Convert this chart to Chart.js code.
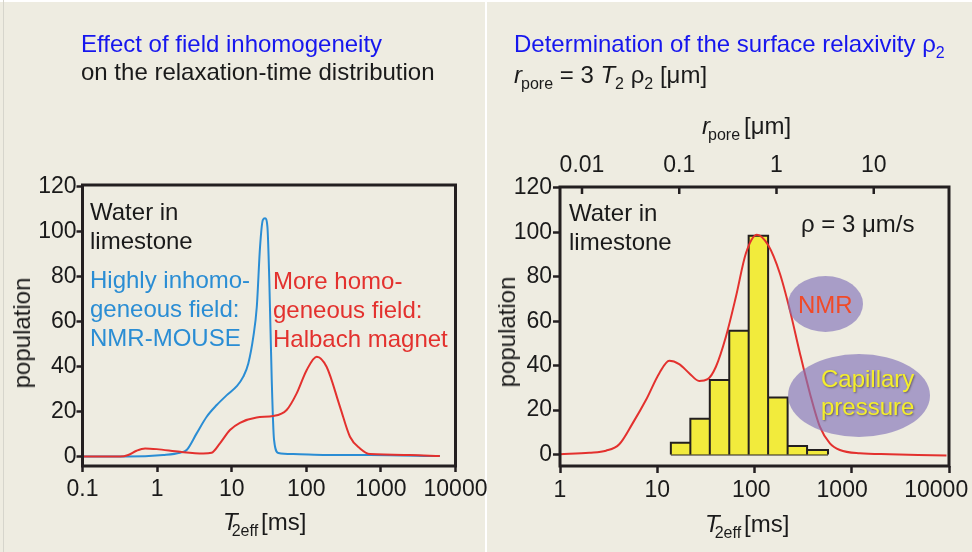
<!DOCTYPE html>
<html>
<head>
<meta charset="utf-8">
<title>Relaxation-time distributions</title>
<script src="https://cdn.jsdelivr.net/npm/chart.js@4.4.0/dist/chart.umd.min.js"></script>
<style>
  html, body { margin: 0; padding: 0; }
  body {
    width: 972px; height: 552px; position: relative; overflow: hidden;
    background: #eeece1; color: #1a1a1a;
    font-family: 'Liberation Sans', Arial, sans-serif;
  }
  canvas { position: absolute; left: 0; top: 0; }
  .txt { position: absolute; white-space: nowrap; font-size: 24px; line-height: 28px; }
  .tall { line-height: 29px; }
  .sub { font-size: 16px; position: relative; top: 6px; }
  .ytitle {
    position: absolute; white-space: nowrap; font-size: 24px; line-height: 24px;
    transform: translate(-50%, -50%) rotate(-90deg);
  }
  .blue { color: #1616ee; }
  .oval {
    position: absolute; border-radius: 50%;
    background: rgba(130, 115, 185, 0.65);
  }
  .divider { position: absolute; background: #ffffff; }
</style>
</head>
<body>
<div class="divider" style="left:485px;top:0;width:2px;height:552px"></div>
<div class="divider" style="left:0;top:0;width:972px;height:2px"></div>
<div class="divider" style="left:3px;top:0;width:1px;height:552px;background:#d6d5cc"></div>

<canvas id="leftChart" width="972" height="552"></canvas>
<canvas id="rightChart" width="972" height="552"></canvas>

<!-- left panel text -->
<div class="txt" style="left:81px;top:30px"><span class="blue">Effect of field inhomogeneity</span><br>on the relaxation-time distribution</div>
<div class="txt tall" style="left:90px;top:197px">Water in<br>limestone</div>
<div class="txt tall" style="left:90px;top:265px;color:#2a8dd4">Highly inhomo-<br>geneous field:<br>NMR-MOUSE</div>
<div class="txt tall" style="left:273px;top:265.5px;color:#e3312e">More homo-<br>geneous field:<br>Halbach magnet</div>
<div class="ytitle" style="left:22px;top:333px">population</div>
<div class="txt" style="left:223px;top:508px"><i>T</i><span class="sub" style="margin-left:-6px;margin-right:3px">2eff</span>[ms]</div>

<!-- right panel text -->
<div class="txt" style="left:514px;top:30px"><span class="blue">Determination of the surface relaxivity ρ<span class="sub">2</span></span><br><i>r</i><span class="sub" style="margin-left:-1px">pore</span> = 3 <i>T</i><span class="sub">2</span> ρ<span class="sub">2</span> [μm]</div>
<div class="txt tall" style="left:569px;top:198px">Water in<br>limestone</div>
<div class="txt tall" style="left:801px;top:209px">ρ = 3 μm/s</div>
<div class="ytitle" style="left:507px;top:332px">population</div>
<div class="txt" style="left:705px;top:510px"><i>T</i><span class="sub" style="margin-left:-5px;margin-right:3px">2eff</span>[ms]</div>
<div class="txt" style="left:702px;top:112px"><i>r</i><span class="sub" style="margin-left:-2px;margin-right:4px">pore</span>[μm]</div>

<div class="oval" style="left:788px;top:276px;width:75px;height:56px"></div>
<div class="txt" style="left:798px;top:291px;color:#f04a28">NMR</div>
<div class="oval" style="left:788px;top:354px;width:142px;height:83px"></div>
<div class="txt" style="left:821px;top:364.5px;line-height:28.5px;color:#f4ee2c;text-shadow:1px 1px 2px rgba(60,50,40,0.6)">Capillary<br>pressure</div>

<script>
// T2 axis (ms) and population values, left panel
const xTicksLeft = [0.1, 1, 10, 100, 1000, 10000];
const xLabelsLeft = ['0.1', '1', '10', '100', '1000', '10000'];
const popTicks = [0, 20, 40, 60, 80, 100, 120];

// NMR-MOUSE (inhomogeneous field)
const mouseT2 = [0.1, 0.39, 1.21, 2.03, 2.49, 3.39, 4.62, 6.3, 8.6, 11.7, 14.3, 16.7, 19.5, 21.7, 24, 26.1, 28, 30.1, 31.9, 34.4, 36.9, 42.2, 67, 187, 714, 6170];
const mousePop = [0, 0, 0.7, 1.7, 2.9, 10.3, 17.7, 22.9, 27.3, 31.3, 35.5, 41.4, 53.3, 66.6, 93.3, 105.1, 105.9, 102.2, 78.6, 34.2, 7.6, 1.6, 1.1, 0.7, 0.7, 0.2];

// Halbach magnet (more homogeneous field)
const halbachT2 = [0.1, 0.32, 0.41, 0.53, 0.69, 0.99, 2.03, 4.16, 5.38, 6.96, 9.48, 12.9, 21.6, 36.1, 54.5, 74.3, 101, 138, 187, 283, 385, 525, 714, 2450, 6170];
const halbachPop = [0, 0, 0.7, 2.6, 3.6, 3.3, 2.1, 1.4, 1.7, 5.9, 11.8, 15, 17.4, 18, 20.7, 28.1, 38.4, 44.4, 39.9, 22.1, 8.8, 3.6, 1.1, 0.7, 0.2];

// right panel
const xTicksRight = [1, 10, 100, 1000, 10000];
const xLabelsRight = ['1', '10', '100', '1000', '10000'];
const poreTicks = [0.01, 0.1, 1, 10];
const poreLabels = ['0.01', '0.1', '1', '10'];

// NMR distribution
const nmrT2 = [1, 2.0, 2.97, 4.07, 5.58, 7.65, 10.5, 13.3, 16.8, 21.3, 27, 33, 40.1, 50.8, 64.4, 81.6, 106, 138, 182, 231, 293, 371, 470, 596, 755, 1211, 2455, 9420];
const nmrPop = [0.1, 0.8, 1.7, 4.6, 14, 24.5, 36.6, 42.2, 40.7, 36.6, 33.1, 33.9, 39.5, 53, 71, 90.6, 99, 94.3, 81.6, 65, 45.6, 27.6, 12.5, 5, 2, 0.5, 0.1, -0.5];

// capillary pressure histogram (bin edges in ms)
const binEdges = [13.8, 21.9, 34.7, 55.0, 87.1, 138, 219, 347, 570];
const binPop = [5.3, 16.1, 33.5, 55.7, 98.5, 25.6, 3.8, 2.0];

const FRAME = '#231f20';
Chart.defaults.font.family = "'Liberation Sans', Arial, sans-serif";
Chart.defaults.font.size = 23;
Chart.defaults.color = '#1a1a1a';

function pairs(xs, ys) {
    return xs.map((x, i) => ({ x: x, y: ys[i] }));
}

// outline of the histogram, walking up and down each bin edge
function histogramOutline(edges, heights) {
    const pts = [];
    heights.forEach((h, i) => {
        pts.push({ x: edges[i], y: 0 }, { x: edges[i], y: h }, { x: edges[i + 1], y: h });
    });
    pts.push({ x: edges[edges.length - 1], y: 0 });
    return pts;
}

// box around the plot area plus inward ticks for a top axis
const framePlugin = {
    id: 'frame',
    afterDatasetsDraw(chart) {
        const ctx = chart.ctx;
        const a = chart.chartArea;
        ctx.save();
        ctx.strokeStyle = FRAME;
        ctx.lineWidth = 3;
        ctx.strokeRect(a.left, a.top, a.right - a.left, a.bottom - a.top);
        const top = chart.scales.x2;
        if (top) {
            ctx.lineWidth = 2.5;
            ctx.beginPath();
            top.ticks.forEach(t => {
                const px = top.getPixelForValue(t.value);
                ctx.moveTo(px, a.top);
                ctx.lineTo(px, a.top + 7);
            });
            ctx.stroke();
        }
        ctx.restore();
    }
};

function tickGrid(len) {
    return { drawOnChartArea: false, drawTicks: len > 0, tickLength: len, tickWidth: 2.5, tickColor: FRAME };
}

function lineSet(data, color) {
    return {
        data: data, borderColor: color, borderWidth: 2, pointRadius: 0,
        fill: false, cubicInterpolationMode: 'monotone'
    };
}

const common = {
    responsive: false,
    animation: false,
    devicePixelRatio: 1,
    plugins: { legend: { display: false }, tooltip: { enabled: false } }
};

new Chart(document.getElementById('leftChart'), {
    type: 'line',
    data: {
        datasets: [
            Object.assign(lineSet(pairs(halbachT2, halbachPop), '#e3312e'), { order: 0 }),
            Object.assign(lineSet(pairs(mouseT2, mousePop), '#2a8dd4'), { order: 1 })
        ]
    },
    options: Object.assign({}, common, {
        layout: { padding: { left: 0, top: 185, right: 972 - 455.5, bottom: 0 } },
        scales: {
            x: {
                type: 'logarithmic', min: 0.1, max: 10000,
                afterBuildTicks: s => { s.ticks = xTicksLeft.map(v => ({ value: v })); },
                afterFit: s => { s.height = 86; s.paddingLeft = 0; s.paddingRight = 0; },
                ticks: { autoSkip: false, maxRotation: 0, padding: 4, callback: (v, i) => xLabelsLeft[i] },
                grid: tickGrid(6),
                border: { display: false }
            },
            y: {
                type: 'linear', min: -4.2, max: 120.7,
                afterBuildTicks: s => { s.ticks = popTicks.map(v => ({ value: v })); },
                afterFit: s => { s.width = 82.5; s.paddingTop = 0; s.paddingBottom = 0; },
                ticks: { padding: 0, callback: v => String(v) },
                grid: tickGrid(6),
                border: { display: false }
            }
        }
    }),
    plugins: [framePlugin]
});

new Chart(document.getElementById('rightChart'), {
    type: 'line',
    data: {
        datasets: [
            Object.assign(lineSet(pairs(nmrT2, nmrPop), '#e3312e'), { order: 0 }),
            {
                data: histogramOutline(binEdges, binPop),
                borderColor: FRAME, borderWidth: 2, pointRadius: 0,
                backgroundColor: '#f2eb3c', fill: 'origin', order: 1
            },
            {
                data: [{ x: binEdges[0], y: 0 }, { x: binEdges[binEdges.length - 1], y: 0 }],
                borderColor: FRAME, borderWidth: 2, pointRadius: 0, fill: false, order: 1
            }
        ]
    },
    options: Object.assign({}, common, {
        layout: { padding: { left: 487, top: 0, right: 23, bottom: 0 } },
        scales: {
            x: {
                type: 'logarithmic', position: 'bottom', min: 1, max: 10000,
                afterBuildTicks: s => { s.ticks = xTicksRight.map(v => ({ value: v })); },
                afterFit: s => { s.height = 86; s.paddingLeft = 0; s.paddingRight = 0; },
                ticks: {
                    autoSkip: false, maxRotation: 0, padding: 4,
                    callback: (v, i) => xLabelsRight[i] + ' '.repeat([0, 0, 1, 3, 4][i])
                },
                grid: tickGrid(7),
                border: { display: false }
            },
            x2: {
                type: 'logarithmic', position: 'top', axis: 'x', min: 0.00594, max: 59.4,
                afterBuildTicks: s => { s.ticks = poreTicks.map(v => ({ value: v })); },
                afterFit: s => { s.height = 187; s.paddingLeft = 0; s.paddingRight = 0; },
                ticks: { autoSkip: false, maxRotation: 0, padding: 8, callback: (v, i) => poreLabels[i] },
                grid: tickGrid(0),
                border: { display: false }
            },
            y: {
                type: 'linear', min: -5.2, max: 120.45,
                afterBuildTicks: s => { s.ticks = popTicks.map(v => ({ value: v })); },
                afterFit: s => { s.width = 73; s.paddingTop = 0; s.paddingBottom = 0; },
                ticks: { padding: 1, callback: v => String(v) },
                grid: tickGrid(7),
                border: { display: false }
            }
        }
    }),
    plugins: [framePlugin]
});
</script>
</body>
</html>
